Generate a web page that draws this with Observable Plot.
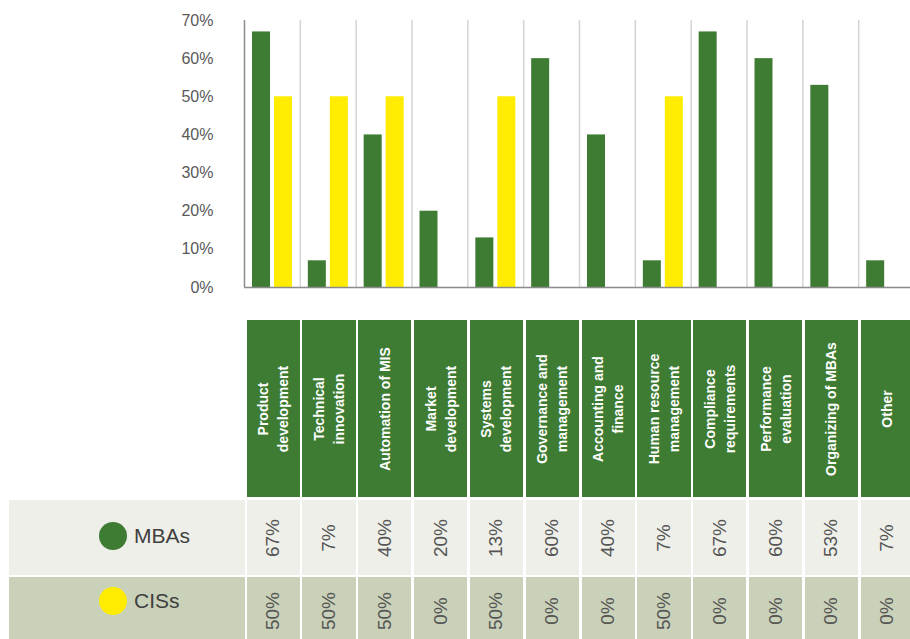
<!DOCTYPE html>
<html><head><meta charset="utf-8">
<script src="https://cdn.jsdelivr.net/npm/d3@7"></script>
<script src="https://cdn.jsdelivr.net/npm/@observablehq/plot@0.6"></script>
<style>
body{margin:0;background:#fff;font-family:"Liberation Sans",Arial,sans-serif;}
#wrap{position:relative;width:910px;height:639px;overflow:hidden;}
.cell{position:absolute;box-sizing:border-box;}
.rot{position:absolute;left:50%;top:50%;transform:translate(-50%,-50%) rotate(-90deg);white-space:nowrap;text-align:center;}
</style></head><body><div id="wrap"></div>
<script>
// ---- data ----
const categories = ["Product development","Technical innovation","Automation of MIS","Market development","Systems development","Governance and management","Accounting and finance","Human resource management","Compliance requirements","Performance evaluation","Organizing of MBAs","Other"];
const headerLines = [["Product","development"],["Technical","innovation"],["Automation of MIS"],["Market","development"],["Systems","development"],["Governance and","management"],["Accounting and","finance"],["Human resource","management"],["Compliance","requirements"],["Performance","evaluation"],["Organizing of MBAs"],["Other"]];
const seriesNames = ["MBAs","CISs"];
const mbasValues = [0.67,0.07,0.40,0.20,0.13,0.60,0.40,0.07,0.67,0.60,0.53,0.07];
const cissValues = [0.50,0.50,0.50,0.00,0.50,0.00,0.00,0.50,0.00,0.00,0.00,0.00];
const yTicks = [0,0.1,0.2,0.3,0.4,0.5,0.6,0.7];

// ---- styles ----
const GREEN = "#3e7c33", YELLOW = "#ffec00";
const W = 910, H = 300, ML = 244, MR = -4;
const step = (W - ML - MR) / categories.length;
const rows = categories.map((c,i)=>({category:c, mbas:mbasValues[i], ciss:cissValues[i]}));

const chart = Plot.plot({
  width: W, height: H, marginLeft: ML, marginRight: MR, marginTop: 20, marginBottom: 13,
  style: {fontFamily: '"Liberation Sans",Arial,sans-serif', fontSize: "16px", color: "#595959", background: "transparent", overflow: "visible"},
  x: {type: "band", domain: categories, padding: 0, round: false, axis: null},
  y: {domain: [0, 0.7], ticks: yTicks, tickFormat: d3.format(".0%"), tickSize: 0, tickPadding: 31, label: null},
  marks: [
    Plot.ruleX(categories.slice(1), {x: d => d, dx: -step/2, stroke: "#d4d4d4", strokeWidth: 1.5}),
    Plot.barY(rows, {x: "category", y: "mbas", fill: GREEN, insetLeft: 8, insetRight: step - 26}),
    Plot.barY(rows, {x: "category", y: "ciss", fill: YELLOW, insetLeft: 30, insetRight: step - 48}),
    Plot.ruleX(categories.slice(0,1), {x: d => d, dx: -step/2, stroke: "#8a8a8a", strokeWidth: 1.5}),
    Plot.ruleY([0], {stroke: "#8a8a8a", strokeWidth: 1.5})
  ]
});
const wrap = d3.select("#wrap");
wrap.node().appendChild(chart);
d3.select(chart).style("position","absolute").style("left","0px").style("top","0px");

// ---- table aligned with the chart's x scale ----
const xs = chart.scale("x");
const band = d3.scaleBand().domain(xs.domain).range(xs.range).padding(0);
const fmt = d3.format(".0%");
const rowDefs = [
  {name: seriesNames[0], values: mbasValues, color: GREEN, bg: "#eeefe9", top: 500, h: 75},
  {name: seriesNames[1], values: cissValues, color: YELLOW, bg: "#c9d1b9", top: 577, h: 62}
];
// header
categories.forEach((c,i)=>{
  const x0 = band(c);
  const cell = wrap.append("div").attr("class","cell")
    .style("left",(x0+2.5)+"px").style("top","320px")
    .style("width",(step-2.5)+"px").style("height","177px")
    .style("background",GREEN);
  cell.append("div").attr("class","rot")
    .style("color","#fff").style("font-size","14px").style("font-weight","bold").style("line-height","20px")
    .html(headerLines[i].join("<br>"));
});
rowDefs.forEach(r=>{
  const lab = wrap.append("div").attr("class","cell")
    .style("left","9px").style("top",r.top+"px").style("width","236px").style("height",r.h+"px")
    .style("background",r.bg);
  const mid = r.name === seriesNames[0] ? 36 : 24;
  lab.append("div").style("position","absolute").style("left","90px").style("top",(mid-14)+"px")
    .style("width","28px").style("height","28px").style("border-radius","50%").style("background",r.color);
  lab.append("div").style("position","absolute").style("left","125px").style("top",(mid-13)+"px")
    .style("font-size","21px").style("line-height","26px").style("color","#404040").text(r.name);
  categories.forEach((c,i)=>{
    const x0 = band(c);
    const cell = wrap.append("div").attr("class","cell")
      .style("left",(x0+2.5)+"px").style("top",r.top+"px")
      .style("width",(step-2.5)+"px").style("height",r.h+"px")
      .style("background",r.bg);
    cell.append("div").attr("class","rot")
      .style("color","#555").style("font-size","19px")
      .style("margin-top", r.name === seriesNames[1] ? "3px" : "0px")
      .text(fmt(r.values[i]));
  });
});
</script></body></html>
